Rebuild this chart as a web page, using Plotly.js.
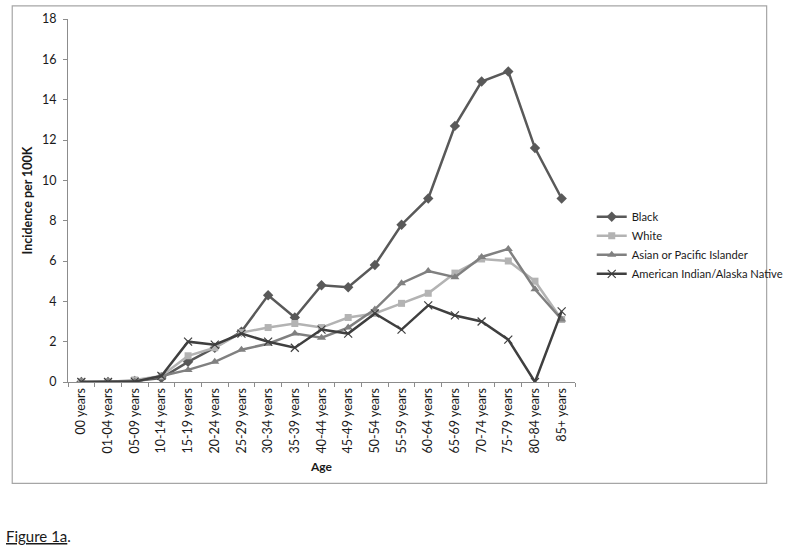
<!DOCTYPE html>
<html>
<head>
<meta charset="utf-8">
<script src="https://cdn.plot.ly/plotly-3.0.1.min.js"></script>
<style>html,body{margin:0;padding:0;background:#fff;}#chart{width:800px;height:550px;}</style>
</head>
<body>
<div id="chart"></div>
<script>
var ageGroups = ["00 years","01-04 years","05-09 years","10-14 years","15-19 years","20-24 years","25-29 years","30-34 years","35-39 years","40-44 years","45-49 years","50-54 years","55-59 years","60-64 years","65-69 years","70-74 years","75-79 years","80-84 years","85+ years"];
var black = [0, 0, 0.05, 0.2, 1.0, 1.7, 2.5, 4.3, 3.2, 4.8, 4.7, 5.8, 7.8, 9.1, 12.7, 14.9, 15.4, 11.6, 9.1];
var white = [0, 0, 0.1, 0.3, 1.3, 1.7, 2.45, 2.7, 2.9, 2.7, 3.2, 3.4, 3.9, 4.4, 5.4, 6.1, 6.0, 5.0, 3.1];
var asian = [0, 0, 0.02, 0.3, 0.6, 1.0, 1.6, 1.9, 2.4, 2.2, 2.7, 3.6, 4.9, 5.5, 5.2, 6.2, 6.6, 4.6, 3.1];
var aian  = [0, 0, 0.02, 0.3, 2.0, 1.85, 2.4, 2.0, 1.7, 2.6, 2.4, 3.4, 2.6, 3.8, 3.3, 3.0, 2.1, 0, 3.5];
var seriesNames = ["Black", "White", "Asian or Pacific Islander", "American Indian/Alaska Native"];
var yTicks = [0, 2, 4, 6, 8, 10, 12, 14, 16, 18];

var FONT = "Lato, 'Open Sans', sans-serif";

function mk(name, y, color, symbol, msize, mline) {
  return {
    type: "scatter", mode: "lines+markers", name: name,
    x: ageGroups, y: y,
    line: {color: color, width: 2.5},
    marker: {symbol: symbol, size: msize, color: color, line: mline || {width: 0}}
  };
}

var data = [
  mk(seriesNames[0], black, "#595959", "diamond", 8),
  mk(seriesNames[1], white, "#b3b3b3", "square", 7),
  mk(seriesNames[2], asian, "#808080", "triangle-up", 8),
  mk(seriesNames[3], aian, "#3f3f3f", "x-thin-open", 8, {width: 1.2, color: "#3f3f3f"})
];

var layout = {
  width: 800, height: 550,
  margin: {l: 68, r: 206, t: 19, b: 168},
  paper_bgcolor: "#ffffff", plot_bgcolor: "#ffffff",
  font: {family: FONT, size: 12, color: "#1a1a1a"},
  showlegend: true,
  legend: {
    x: 1.033, xanchor: "left", y: 0.495, yanchor: "top",
    font: {family: FONT, size: 11.2, color: "#1a1a1a"},
    bgcolor: "rgba(0,0,0,0)", tracegroupgap: 0
  },
  xaxis: {
    type: "category", range: [-0.5, 18.5],
    showline: true, linecolor: "#8c8c8c", linewidth: 1,
    ticks: "outside", tickson: "boundaries", ticklen: 4, tickcolor: "#8c8c8c",
    tickangle: -90, tickfont: {family: FONT, size: 12.5},
    showgrid: false, zeroline: false, fixedrange: true,
    title: {text: "<b>Age</b>", font: {family: FONT, size: 12}, standoff: 10}
  },
  yaxis: {
    range: [0, 18], tickvals: yTicks,
    showline: true, linecolor: "#8c8c8c", linewidth: 1,
    ticks: "outside", ticklen: 4, tickcolor: "#8c8c8c",
    tickfont: {family: FONT, size: 12.5}, ticklabelstandoff: 4,
    showgrid: false, zeroline: false, fixedrange: true,
    title: {text: "<b>Incidence per 100K</b>", font: {family: FONT, size: 12.5}, standoff: 6}
  },
  shapes: [{
    type: "rect", xref: "paper", yref: "paper",
    x0: -0.110, x1: 1.378, y0: -0.279, y1: 1.036,
    line: {color: "#a6a6a6", width: 1.2}, fillcolor: "rgba(0,0,0,0)", layer: "below"
  }],
  annotations: [{
    xref: "paper", yref: "paper", x: -0.126, y: -0.425, xanchor: "left", yanchor: "middle",
    showarrow: false, text: "<u>Figure 1a</u>.",
    font: {family: FONT, size: 15, color: "#1a1a1a"}
  }]
};

Plotly.newPlot("chart", data, layout, {displayModeBar: false, staticPlot: true});
</script>
</body>
</html>
